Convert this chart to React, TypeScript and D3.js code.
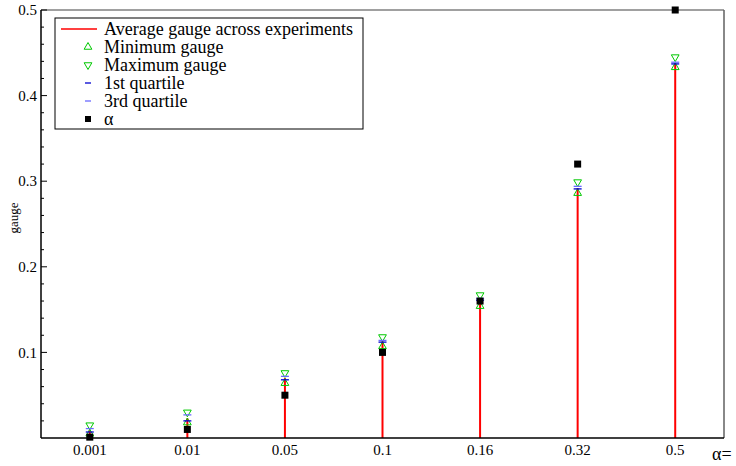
import React from 'react';
import * as d3 from 'd3';

// alpha settings on the x axis
const alphaLabels = ['0.001', '0.01', '0.05', '0.1', '0.16', '0.32', '0.5'];
const alphaValues = [0.001, 0.01, 0.05, 0.1, 0.16, 0.32, 0.5];

// gauge stats per alpha
const avgGauge = [0.009, 0.023, 0.07, 0.113, 0.162, 0.292, 0.438];
const minGauge = [0.005, 0.018, 0.064, 0.107, 0.154, 0.286, 0.433];
const maxGauge = [0.015, 0.03, 0.076, 0.118, 0.167, 0.299, 0.445];
const q1Gauge = [0.007, 0.02, 0.068, 0.112, 0.161, 0.291, 0.437];
const q3Gauge = [0.011, 0.027, 0.072, 0.114, 0.163, 0.294, 0.439];

const yTicks = [0.1, 0.2, 0.3, 0.4, 0.5];

const legendItems = [
    'Average gauge across experiments',
    'Minimum gauge',
    'Maximum gauge',
    '1st quartile',
    '3rd quartile',
    'α',
];

const W = 736;
const H = 466;
const margin = { left: 41, right: 12, top: 10, bottom: 28 };

const GREEN = '#00c800';
const Q1 = '#0000d0';
const Q3 = '#6a6aff';
const RED = '#ff0000';
const FONT = '"Liberation Serif", "DejaVu Serif", serif';

const triangle = d3.symbol(d3.symbolTriangle, 26)();

export default function App() {
    const x = d3
        .scalePoint<string>()
        .domain(alphaLabels)
        .range([margin.left, W - margin.right])
        .padding(0.5);
    const y = d3.scaleLinear().domain([0, 0.5]).range([H - margin.bottom, margin.top]);

    // minor ticks every 0.02, skipping the labelled ones
    const minorTicks = d3.range(0.02, 0.5, 0.02).filter((t) => Math.abs(t * 10 - Math.round(t * 10)) > 1e-6);

    const x0 = margin.left;
    const x1 = W - margin.right;
    const y0 = H - margin.bottom;
    const y1 = margin.top;

    return (
        <svg
            width={W}
            height={H}
            style={{ position: 'absolute', left: 0, top: 0, background: '#fff' }}
            fontFamily={FONT}
        >
            {/* frame: top and right in grey */}
            <line x1={x0} x2={x1} y1={y1} y2={y1} stroke="#808080" strokeWidth={1.5} />
            <line x1={x1} x2={x1} y1={y1} y2={y0} stroke="#606060" strokeWidth={1.5} />

            {/* y ticks */}
            {minorTicks.map((t) => (
                <line key={'m' + t} x1={x0} x2={x0 + 3} y1={y(t)} y2={y(t)} stroke="#000" strokeWidth={1} />
            ))}
            {yTicks.map((t) => (
                <g key={'t' + t}>
                    <line x1={x0} x2={x0 + 6} y1={y(t)} y2={y(t)} stroke="#000" strokeWidth={1} />
                    <text x={x0 - 4} y={y(t)} dy="0.35em" textAnchor="end" fontSize={15}>
                        {t}
                    </text>
                </g>
            ))}

            {/* stems for average gauge */}
            {alphaLabels.map((a, i) => (
                <line
                    key={'s' + a}
                    x1={x(a)}
                    x2={x(a)}
                    y1={y(0)}
                    y2={y(avgGauge[i])}
                    stroke={RED}
                    strokeWidth={2}
                />
            ))}

            {/* min / max triangles */}
            {alphaLabels.map((a, i) => (
                <g key={'tri' + a}>
                    <path
                        d={triangle}
                        transform={`translate(${x(a)},${y(minGauge[i])})`}
                        fill="none"
                        stroke={GREEN}
                        strokeWidth={1}
                    />
                    <path
                        d={triangle}
                        transform={`translate(${x(a)},${y(maxGauge[i])}) rotate(180)`}
                        fill="none"
                        stroke={GREEN}
                        strokeWidth={1}
                    />
                </g>
            ))}

            {/* quartile dashes */}
            {alphaLabels.map((a, i) => (
                <g key={'q' + a}>
                    <line x1={x(a)! - 4} x2={x(a)! + 4} y1={y(q1Gauge[i])} y2={y(q1Gauge[i])} stroke={Q1} strokeWidth={1.3} />
                    <line x1={x(a)! - 4} x2={x(a)! + 4} y1={y(q3Gauge[i])} y2={y(q3Gauge[i])} stroke={Q3} strokeWidth={1.3} />
                </g>
            ))}

            {/* alpha squares */}
            {alphaLabels.map((a, i) => (
                <rect key={'a' + a} x={x(a)! - 3.5} y={y(alphaValues[i]) - 3.5} width={7} height={7} fill="#000" />
            ))}

            {/* left and bottom axis lines */}
            <line x1={x0} x2={x0} y1={y1} y2={y0} stroke="#000" strokeWidth={1.5} />
            <line x1={x0} x2={x1} y1={y0} y2={y0} stroke="#000" strokeWidth={1.5} />

            {/* x tick labels */}
            {alphaLabels.map((a) => (
                <text key={'xl' + a} x={x(a)} y={y0 + 17} textAnchor="middle" fontSize={15}>
                    {a}
                </text>
            ))}
            <text x={712} y={460} fontSize={18}>
                α=
            </text>

            {/* y axis title */}
            <text transform={`translate(18,218) rotate(-90)`} textAnchor="middle" fontSize={13}>
                gauge
            </text>

            {/* legend */}
            <g>
                <rect x={55} y={18} width={308} height={111} fill="#fff" stroke="#000" strokeWidth={1} />
                {legendItems.map((label, i) => {
                    const cy = 29 + i * 18;
                    let sample: React.ReactNode = null;
                    if (i === 0) sample = <line x1={61} x2={97} y1={cy} y2={cy} stroke={RED} strokeWidth={1.5} />;
                    if (i === 1)
                        sample = (
                            <path d={triangle} transform={`translate(88,${cy})`} fill="none" stroke={GREEN} strokeWidth={1} />
                        );
                    if (i === 2)
                        sample = (
                            <path
                                d={triangle}
                                transform={`translate(88,${cy}) rotate(180)`}
                                fill="none"
                                stroke={GREEN}
                                strokeWidth={1}
                            />
                        );
                    if (i === 3) sample = <line x1={85} x2={91} y1={cy} y2={cy} stroke={Q1} strokeWidth={1.3} />;
                    if (i === 4) sample = <line x1={85} x2={91} y1={cy} y2={cy} stroke={Q3} strokeWidth={1.3} />;
                    if (i === 5) sample = <rect x={85} y={cy - 3} width={6} height={6} fill="#000" />;
                    return (
                        <g key={label}>
                            {sample}
                            <text x={104} y={cy} dy="0.35em" fontSize={18}>
                                {label}
                            </text>
                        </g>
                    );
                })}
            </g>
        </svg>
    );
}
